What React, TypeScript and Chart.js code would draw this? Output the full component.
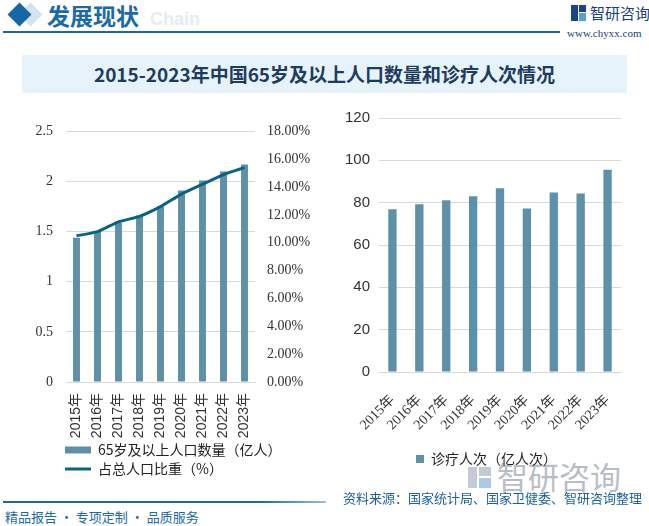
import React, { useEffect, useRef } from 'react';
import { Chart, registerables } from 'chart.js';

Chart.register(...registerables);

const years = ['2015年', '2016年', '2017年', '2018年', '2019年', '2020年', '2021年', '2022年', '2023年'];
const aged65Pop = [1.44, 1.5, 1.59, 1.66, 1.75, 1.91, 2.01, 2.1, 2.17];
const aged65Share = [10.5, 10.8, 11.5, 11.9, 12.6, 13.5, 14.2, 14.9, 15.4];
const visits = [76.9, 79.2, 81.2, 83.0, 86.8, 77.3, 84.8, 84.3, 95.6];

const popLabel = '65岁及以上人口数量（亿人）';
const shareLabel = '占总人口比重（%）';
const visitsLabel = '诊疗人次（亿人次）';

const BAR = '#5e91a8';
const LINE = '#0b6383';
const GRID = '#d9d9d9';
const TICK = '#333333';
const SANS = '"Liberation Sans", "Noto Sans CJK SC", sans-serif';
const SERIF = '"Liberation Serif", "Noto Sans CJK SC", serif';
const CJK = '"Noto Sans CJK SC", sans-serif';

// Moves the legend box horizontally and widens it so its clip region holds the full text.
const legendShift = {
  id: 'legendShift',
  afterLayout(chart: any, _args: any, opts: any) {
    const l = chart.legend;
    if (!l) return;
    l.left += (opts && opts.dx) || 0;
    l.right = chart.width;
    l.width = l.right - l.left;
  },
};

export default function App() {
  const leftRef = useRef<HTMLCanvasElement>(null);
  const rightRef = useRef<HTMLCanvasElement>(null);

  useEffect(() => {
    const left = new Chart(leftRef.current!, {
      type: 'bar',
      plugins: [legendShift],
      data: {
        labels: years,
        datasets: [
          {
            type: 'bar',
            label: popLabel,
            data: aged65Pop,
            backgroundColor: BAR,
            borderWidth: 0,
            barPercentage: 0.33,
            categoryPercentage: 1,
            yAxisID: 'y',
            order: 1,
            pointStyle: 'rect',
          } as any,
          {
            type: 'line',
            label: shareLabel,
            data: aged65Share,
            borderColor: LINE,
            backgroundColor: LINE,
            borderWidth: 3,
            pointRadius: 0,
            pointStyle: 'line',
            tension: 0.2,
            yAxisID: 'y1',
            order: 0,
          } as any,
        ],
      },
      options: {
        responsive: false,
        animation: false,
        layout: { padding: { left: 0, right: 40, top: 16, bottom: 14 } },
        plugins: {
          tooltip: { enabled: false },
          legendShift: { dx: -6 },
          legend: {
            position: 'bottom',
            align: 'start',
            fullSize: false,
            labels: {
              usePointStyle: true,
              pointStyleWidth: 26,
              boxHeight: 7,
              padding: 5,
              color: '#222',
              font: { family: CJK, size: 14 },
              sort: (a: any, b: any) => a.datasetIndex - b.datasetIndex,
            },
          },
        },
        scales: {
          x: {
            grid: { display: false },
            border: { display: true, color: GRID },
            ticks: {
              autoSkip: false,
              minRotation: 90,
              maxRotation: 90,
              padding: 3,
              color: TICK,
              font: { family: SANS, size: 14 },
            },
            afterFit: (s: any) => { s.height = 56; },
          },
          y: {
            position: 'left',
            min: 0,
            max: 2.5,
            ticks: {
              stepSize: 0.5,
              padding: 13,
              color: TICK,
              font: { family: SERIF, size: 14 },
              callback: (v: any) => String(Number(v)),
            },
            grid: { color: GRID, drawTicks: false },
            border: { display: false },
            afterFit: (s: any) => { s.width = 66; },
          },
          y1: {
            position: 'right',
            min: 0,
            max: 18,
            ticks: {
              stepSize: 2,
              padding: 12,
              color: TICK,
              font: { family: SERIF, size: 14 },
              callback: (v: any) => Number(v).toFixed(2) + '%',
            },
            grid: { display: false, drawTicks: false },
            border: { display: false },
            afterFit: (s: any) => { s.width = 75; },
          },
        },
      } as any,
    });

    const right = new Chart(rightRef.current!, {
      type: 'bar',
      plugins: [legendShift],
      data: {
        labels: years,
        datasets: [
          {
            label: visitsLabel,
            data: visits,
            backgroundColor: BAR,
            borderWidth: 0,
            barPercentage: 0.31,
            categoryPercentage: 1,
            pointStyle: 'rect',
          } as any,
        ],
      },
      options: {
        responsive: false,
        animation: false,
        layout: { padding: { left: 0, right: 28, top: 17, bottom: 14 } },
        plugins: {
          tooltip: { enabled: false },
          legendShift: { dx: 22 },
          legend: {
            position: 'bottom',
            align: 'start',
            fullSize: false,
            labels: {
              usePointStyle: true,
              pointStyleWidth: 8,
              boxHeight: 8,
              padding: 15,
              color: '#222',
              font: { family: CJK, size: 14 },
            },
          },
        },
        scales: {
          x: {
            grid: { display: false },
            border: { display: true, color: GRID },
            ticks: {
              autoSkip: false,
              minRotation: 45,
              maxRotation: 45,
              padding: 12,
              color: TICK,
              font: { family: SERIF, size: 14 },
            },
            afterFit: (s: any) => { s.height = 65; },
          },
          y: {
            min: 0,
            max: 120,
            ticks: { stepSize: 20, padding: 9, color: TICK, font: { family: SANS, size: 15 } },
            grid: { color: GRID, drawTicks: false },
            border: { display: false },
            afterFit: (s: any) => { s.width = 49; },
          },
        },
      } as any,
    });

    return () => {
      left.destroy();
      right.destroy();
    };
  }, []);

  const abs = (o: React.CSSProperties): React.CSSProperties => ({ position: 'absolute', ...o });

  return (
    <div style={abs({ left: 0, top: 0, width: 649, height: 526, overflow: 'hidden', background: '#ffffff', fontFamily: CJK })}>
      {/* header */}
      <div style={abs({ left: 150, top: 9, fontFamily: SANS, fontWeight: 700, fontSize: 18, color: '#e2edf6', lineHeight: '20px' })}>Chain</div>
      <div style={abs({ left: 22, top: 6, width: 17, height: 17, background: '#d3e3ef', transform: 'rotate(45deg)' })} />
      <div style={abs({ left: 11, top: 6, width: 17, height: 17, background: '#1667a6', transform: 'rotate(45deg)' })} />
      <div style={abs({ left: 47, top: 0, height: 30, lineHeight: '30px', fontSize: 23, fontWeight: 700, color: '#1c69a7', whiteSpace: 'nowrap' })}>发展现状</div>
      <div style={abs({ left: 3, top: 31, width: 557, height: 2, background: '#1c6aa5' })} />
      <div style={abs({ left: 571, top: 5, width: 7, height: 16, background: '#1f3f8f' })} />
      <div style={abs({ left: 579, top: 5, width: 7, height: 7, background: '#1f3f8f' })} />
      <div style={abs({ left: 579, top: 13, width: 7, height: 8, background: '#5aa0d8' })} />
      <div style={abs({ left: 590, top: 3, lineHeight: '20px', fontSize: 15, color: '#1b3f7c', whiteSpace: 'nowrap' })}>智研咨询</div>
      <div style={abs({ left: 567, top: 26, lineHeight: '14px', fontSize: 11, fontFamily: SERIF, color: '#1b3f7c', whiteSpace: 'nowrap' })}>www.chyxx.com</div>

      {/* title */}
      <div style={abs({ left: 22, top: 55, width: 605, height: 38, background: '#e6f3fb' })} />
      <div style={abs({ left: 22, top: 55, width: 605, height: 38, lineHeight: '38px', textAlign: 'center', fontSize: 19, fontWeight: 700, color: '#1f3b5e', whiteSpace: 'nowrap' })}>
        2015-2023年中国65岁及以上人口数量和诊疗人次情况
      </div>

      {/* watermark logo */}
      <div style={abs({ left: 468, top: 467, width: 9, height: 21, background: '#c3cad1' })} />
      <div style={abs({ left: 479, top: 467, width: 12, height: 9, background: '#c3cad1' })} />
      <div style={abs({ left: 479, top: 478, width: 12, height: 10, background: '#a9c9e6' })} />
      <div style={abs({ left: 497, top: 458, lineHeight: '36px', fontSize: 31, color: '#b7bec6', whiteSpace: 'nowrap' })}>智研咨询</div>

      {/* charts */}
      <canvas ref={leftRef} width={370} height={390} style={abs({ left: 0, top: 110, width: 370, height: 390 })} />
      <canvas ref={rightRef} width={319} height={390} style={abs({ left: 330, top: 100, width: 319, height: 390 })} />

      {/* footer */}
      <div style={abs({ left: 3, top: 501, width: 323, height: 2, background: 'linear-gradient(to right, #1c6aa5 0%, #1c6aa5 80%, #9cc0dc 100%)' })} />
      <div style={abs({ left: 5, top: 508, lineHeight: '18px', fontSize: 13, color: '#1c69a7', whiteSpace: 'nowrap' })}>精品报告 · 专项定制 · 品质服务</div>
      <div style={abs({ left: 343, top: 489, lineHeight: '18px', fontSize: 13, color: '#1c5f9e', whiteSpace: 'nowrap' })}>资料来源：国家统计局、国家卫健委、智研咨询整理</div>
    </div>
  );
}
